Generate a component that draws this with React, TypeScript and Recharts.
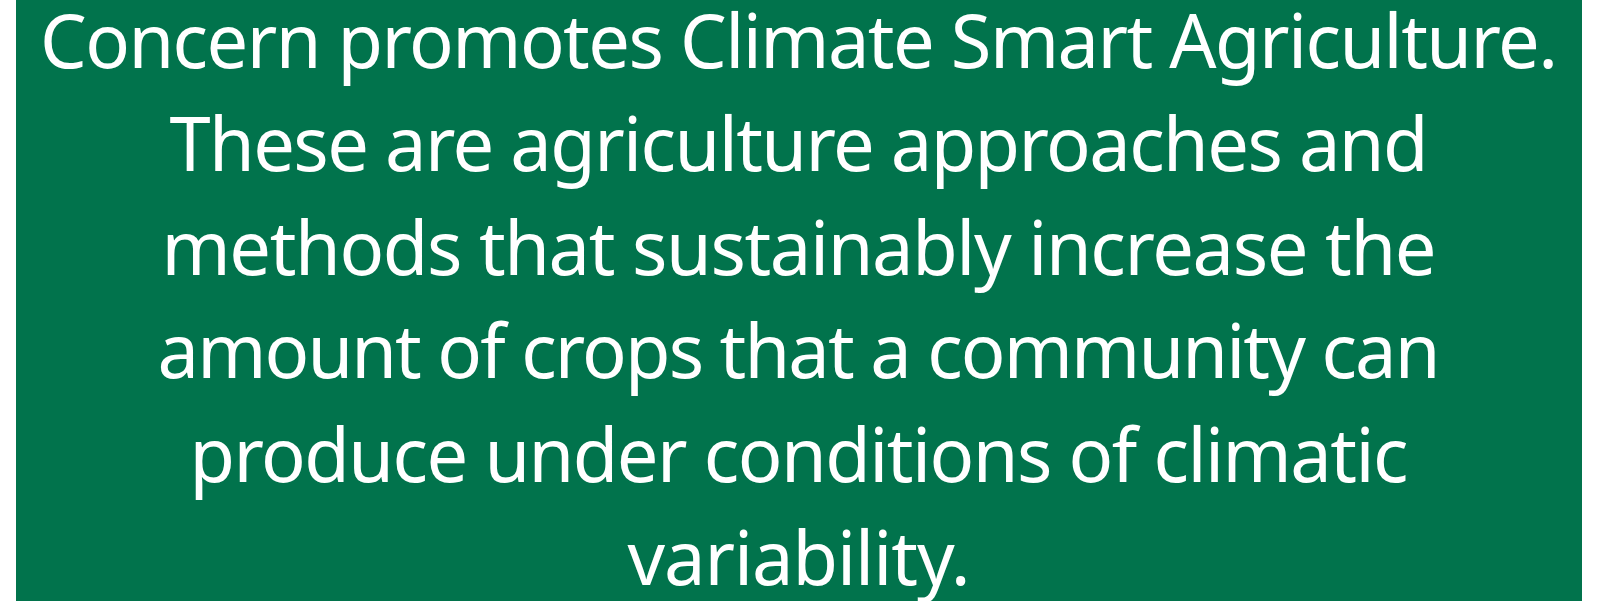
import { Bar, BarChart, XAxis, YAxis } from "recharts";

// 背景の帯（1本のバーで全面を塗る）
const panel = [{ name: "panel", value: 1 }];

// 本文の各行
const lines = [
  "Concern promotes Climate Smart Agriculture.",
  "These are agriculture approaches and",
  "methods that sustainably increase the",
  "amount of crops that a community can",
  "produce under conditions of climatic",
  "variability.",
];

// 参照画像から読んだ各行の幅(px)
const lineWidths = [1518, 1259, 1275, 1283, 1219, 343];

// バーの矩形と本文をまとめて描く
const PanelShape = (props: any) => {
  const { x, y, width, height, fill } = props;
  return (
    <g>
      <rect x={x} y={y} width={width} height={height} fill={fill} />
      {lines.map((line, i) => (
        <text
          key={i}
          x={x + width / 2}
          y={y + 68 + i * 103.4}
          textAnchor="middle"
          fill="#ffffff"
          fontFamily="'Noto Sans', sans-serif"
          fontWeight={400}
          fontSize={74}
          textLength={lineWidths[i]}
          lengthAdjust="spacing"
        >
          {line}
        </text>
      ))}
    </g>
  );
};

export default function App() {
  const width = 1566;
  const height = 601;
  return (
    <div style={{ position: "absolute", left: 16, top: 0, width, height }}>
      <BarChart
        width={width}
        height={height}
        data={panel}
        margin={{ top: 0, right: 0, left: 0, bottom: 0 }}
        barCategoryGap={0}
      >
        <XAxis dataKey="name" hide />
        <YAxis domain={[0, 1]} hide />
        <Bar
          dataKey="value"
          fill="#01734C"
          shape={PanelShape}
          isAnimationActive={false}
        />
      </BarChart>
    </div>
  );
}
